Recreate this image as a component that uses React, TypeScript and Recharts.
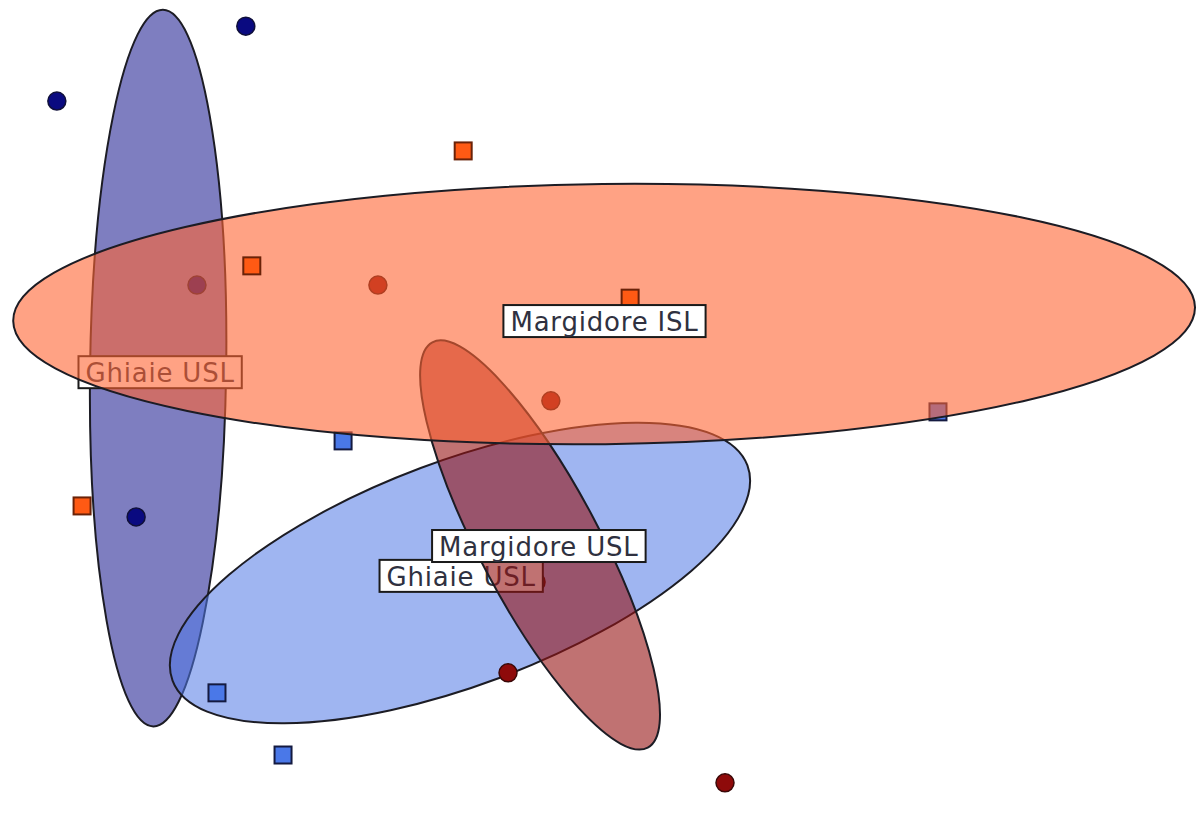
import { Scatter, ScatterChart, XAxis, YAxis } from "recharts";

// ordination scores (no axes shown in the original)
const ghiaieIsl = [
  { x: -1.358, y: 0.753 },
  { x: -0.886, y: 0.936 },
  { x: -1.16, y: -0.264 },
  { x: -1.008, y: 0.303 },
];
const ghiaieUsl = [
  { x: -0.643, y: -0.078 },
  { x: 0.843, y: -0.007 },
  { x: -0.958, y: -0.694 },
  { x: -0.793, y: -0.846 },
];
const margidoreUsl = [
  { x: -0.556, y: 0.303 },
  { x: -0.124, y: 0.02 },
  { x: -0.231, y: -0.645 },
  { x: 0.311, y: -0.914 },
  { x: -0.161, y: -0.423 },
];
const margidoreIsl = [
  { x: -0.343, y: 0.631 },
  { x: -0.871, y: 0.35 },
  { x: -1.295, y: -0.237 },
  { x: 0.074, y: 0.271 },
];

// ellipses: centre, end of major axis, end of minor axis
const ghiaieIslEllipse = [
  { x: -1.105, y: 0.1 },
  { x: -1.093, y: 0.976 },
  { x: -0.935, y: 0.098 },
];
const ghiaieUslEllipse = [
  { x: -0.351, y: -0.401 },
  { x: 0.367, y: -0.138 },
  { x: -0.254, y: -0.658 },
];
const margidoreUslEllipse = [
  { x: -0.151, y: -0.3325 },
  { x: 0.118, y: -0.828 },
  { x: -0.019, y: -0.264 },
];
const margidoreIslEllipse = [
  { x: 0.009, y: 0.232 },
  { x: 1.485, y: 0.249 },
  { x: 0.011, y: -0.086 },
];

// group labels
const labelGhiaieIsl = [{ x: -1.1, y: 0.09, name: "Ghiaie USL" }];
const labelGhiaieUsl = [{ x: -0.348, y: -0.408, name: "Ghiaie USL" }];
const labelMargidoreUsl = [{ x: -0.154, y: -0.335, name: "Margidore USL" }];
const labelMargidoreIsl = [{ x: 0.01, y: 0.215, name: "Margidore ISL" }];

const FONT = '"DejaVu Sans", Verdana, sans-serif';
const FONT_SIZE = 26;
const SPACING = 0.8;

let ctx: CanvasRenderingContext2D | null = null;
function textWidth(s: string) {
  if (!ctx) ctx = document.createElement("canvas").getContext("2d");
  if (!ctx) return s.length * FONT_SIZE * 0.58;
  ctx.font = `${FONT_SIZE}px ${FONT}`;
  return ctx.measureText(s).width + SPACING * s.length;
}

function ellipseLine(fill: string, opacity: number) {
  return (props: any) => {
    const pts = props.points || [];
    if (pts.length < 3) return <g />;
    const [c, a, b] = pts;
    const rx = Math.hypot(a.x - c.x, a.y - c.y);
    const ry = Math.hypot(b.x - c.x, b.y - c.y);
    const ang = (Math.atan2(a.y - c.y, a.x - c.x) * 180) / Math.PI;
    return (
      <ellipse
        cx={c.x}
        cy={c.y}
        rx={rx}
        ry={ry}
        transform={`rotate(${ang} ${c.x} ${c.y})`}
        fill={fill}
        fillOpacity={opacity}
        stroke="#1c1c24"
        strokeWidth={2}
      />
    );
  };
}

const none = () => <g />;

const dot = (fill: string, stroke: string) => (p: any) => (
  <circle cx={p.cx} cy={p.cy} r={9} fill={fill} stroke={stroke} strokeWidth={1.5} />
);
const square = (fill: string, stroke: string) => (p: any) => (
  <rect x={p.cx - 8.5} y={p.cy - 8.5} width={17} height={17} fill={fill} stroke={stroke} strokeWidth={2} />
);

const labelBox = (p: any) => {
  const name = p.payload?.name ?? "";
  const w = textWidth(name) + 14;
  const h = 32;
  return (
    <g>
      <rect x={p.cx - w / 2} y={p.cy - h / 2} width={w} height={h} fill="#ffffff" stroke="#1a1a1a" strokeWidth={2} />
      <text
        x={p.cx}
        y={p.cy + 1}
        textAnchor="middle"
        dominantBaseline="central"
        fontFamily={FONT}
        fontSize={FONT_SIZE}
        letterSpacing={SPACING}
        fill="#2f3140"
      >
        {name}
      </text>
    </g>
  );
};

export default function App() {
  return (
    <div style={{ position: "absolute", left: 0, top: 0, background: "#fff" }}>
      <ScatterChart width={1201} height={818} margin={{ top: 0, right: 0, bottom: 0, left: 0 }}>
        <XAxis type="number" dataKey="x" domain={[-1.5, 1.5]} hide allowDataOverflow />
        <YAxis type="number" dataKey="y" domain={[-1, 1]} hide allowDataOverflow />

        <Scatter data={ghiaieIslEllipse} shape={none} line={ellipseLine("rgb(40,40,150)", 0.6)} isAnimationActive={false} />
        <Scatter data={ghiaieIsl} shape={dot("#0a0a80", "#10103a")} isAnimationActive={false} />

        <Scatter data={ghiaieUslEllipse} shape={none} line={ellipseLine("rgb(80,120,230)", 0.55)} isAnimationActive={false} />
        <Scatter data={ghiaieUsl} shape={square("#4a78e8", "#141a40")} isAnimationActive={false} />

        <Scatter data={margidoreUsl} shape={dot("#8e0a0a", "#3a0808")} isAnimationActive={false} />
        <Scatter data={labelGhiaieUsl} shape={labelBox} isAnimationActive={false} />
        <Scatter data={margidoreUslEllipse} shape={none} line={ellipseLine("rgb(150,20,20)", 0.6)} isAnimationActive={false} />

        <Scatter data={labelGhiaieIsl} shape={labelBox} isAnimationActive={false} />
        <Scatter data={margidoreIslEllipse} shape={none} line={ellipseLine("rgb(255,100,50)", 0.6)} isAnimationActive={false} />
        <Scatter data={margidoreIsl} shape={square("#ff5a14", "#6a2208")} isAnimationActive={false} />

        <Scatter data={labelMargidoreIsl} shape={labelBox} isAnimationActive={false} />
        <Scatter data={labelMargidoreUsl} shape={labelBox} isAnimationActive={false} />
      </ScatterChart>
    </div>
  );
}
